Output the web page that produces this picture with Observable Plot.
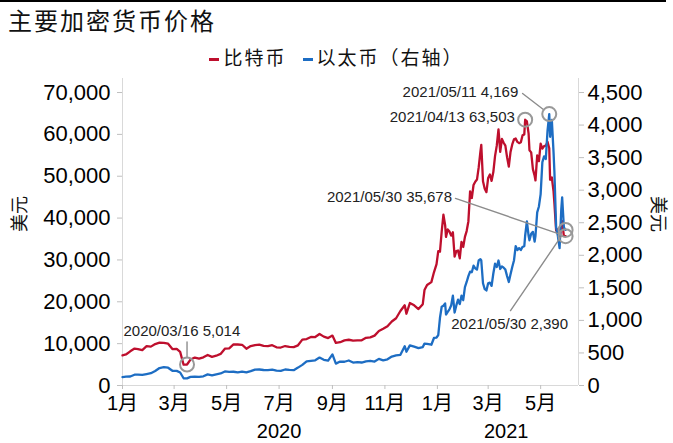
<!DOCTYPE html>
<html><head><meta charset="utf-8">
<script src="https://cdn.jsdelivr.net/npm/d3@7"></script>
<script src="https://cdn.jsdelivr.net/npm/@observablehq/plot@0.6"></script>
<style>
body{margin:0;background:#fff;}
#wrap{width:673px;height:443px;position:relative;overflow:hidden;background:#fff;}
#topline{position:absolute;left:0;top:0;width:666px;height:2px;background:#000;}
#title{position:absolute;left:8px;top:4px;font-family:"Noto Sans CJK SC";font-size:24px;line-height:32px;color:#111;letter-spacing:2px;}
#legend{position:absolute;left:0;width:673px;top:43px;text-align:center;font-family:"Noto Sans CJK SC";font-size:19px;line-height:28px;color:#111;}
#legend .sw{display:inline-block;width:10px;height:3px;vertical-align:middle;margin-right:4px;}
#legend .item{margin:0 8px;letter-spacing:2px;}
#chart{position:absolute;left:0;top:72px;}
</style>
</head><body>
<div id="wrap">
<div id="topline"></div>
<div id="title"></div>
<div id="legend"></div>
<div id="chart"></div>
</div>
<script>
const titleText = "主要加密货币价格";
const seriesNames = ["比特币", "以太币（右轴）"];
const colors = ["#BE0F2D", "#1D6DC3"];

const dates = [
"2020-01-01","2020-01-05","2020-01-10","2020-01-15","2020-01-19","2020-01-24","2020-01-29",
"2020-02-03","2020-02-08","2020-02-13","2020-02-18","2020-02-23","2020-02-28",
"2020-03-04","2020-03-08","2020-03-12","2020-03-16","2020-03-20","2020-03-25","2020-03-30",
"2020-04-04","2020-04-09","2020-04-14","2020-04-19","2020-04-24","2020-04-29",
"2020-05-04","2020-05-09","2020-05-14","2020-05-19","2020-05-24","2020-05-29",
"2020-06-03","2020-06-08","2020-06-13","2020-06-18","2020-06-23","2020-06-28",
"2020-07-03","2020-07-08","2020-07-13","2020-07-18","2020-07-23","2020-07-28",
"2020-08-02","2020-08-07","2020-08-12","2020-08-17","2020-08-22","2020-08-27",
"2020-09-01","2020-09-05","2020-09-10","2020-09-15","2020-09-20","2020-09-25","2020-09-30",
"2020-10-05","2020-10-10","2020-10-15","2020-10-20","2020-10-25","2020-10-30",
"2020-11-04","2020-11-09","2020-11-14","2020-11-19","2020-11-24","2020-11-26","2020-11-30",
"2020-12-05","2020-12-10","2020-12-15","2020-12-17","2020-12-20","2020-12-25","2020-12-28","2020-12-31",
"2021-01-02","2021-01-04","2021-01-06","2021-01-08","2021-01-10","2021-01-11","2021-01-13","2021-01-15",
"2021-01-17","2021-01-19","2021-01-21","2021-01-23","2021-01-25","2021-01-27","2021-01-29","2021-01-31",
"2021-02-02","2021-02-04","2021-02-06","2021-02-08","2021-02-10","2021-02-12","2021-02-14","2021-02-16",
"2021-02-18","2021-02-20","2021-02-21","2021-02-23","2021-02-25","2021-02-27",
"2021-03-01","2021-03-03","2021-03-05","2021-03-07","2021-03-09","2021-03-11","2021-03-13","2021-03-15",
"2021-03-17","2021-03-19","2021-03-21","2021-03-23","2021-03-25","2021-03-27","2021-03-29","2021-03-31",
"2021-04-02","2021-04-04","2021-04-06","2021-04-08","2021-04-10","2021-04-12","2021-04-13","2021-04-15",
"2021-04-17","2021-04-18","2021-04-20","2021-04-22","2021-04-24","2021-04-25","2021-04-27","2021-04-29",
"2021-05-01","2021-05-03","2021-05-05","2021-05-07","2021-05-09","2021-05-11","2021-05-12","2021-05-14",
"2021-05-16","2021-05-17","2021-05-19","2021-05-21","2021-05-23","2021-05-25","2021-05-26","2021-05-28","2021-05-30"
];

const btc = [
7200,7410,8170,8820,8700,8440,9390,
9290,9900,10240,10180,9990,8700,
8760,8040,4970,5014,6200,6680,6400,
6730,7300,6850,7120,7550,8790,
8890,9800,9800,9730,8790,9430,
9660,9760,9470,9410,9630,9120,
9070,9430,9240,9170,9600,10950,
11100,11600,11580,12300,11680,11330,
11920,10170,10340,10790,10930,10740,10780,
10790,11380,11500,11920,13030,13550,
14150,15300,16070,17800,19160,17150,19700,
19150,18250,19430,22800,24000,24700,27050,29000,
32100,31970,36800,40800,38300,35500,37300,36800,
35800,36600,30800,32100,32250,30400,34300,33100,
35500,36900,39200,46400,44800,47900,48700,49200,
52100,55900,57500,48800,47000,46200,
49600,50400,48900,51000,54800,57300,61200,55800,
58900,58000,57300,54500,52300,55800,57600,58800,
59000,58200,57900,58100,59800,60000,63503,63100,
60200,56200,55700,51700,50100,49000,55000,53600,
57800,56600,57200,57300,58200,56700,49150,49700,
46400,43500,37000,37300,34700,38400,39300,35700,35678
];

const eth = [
130,136,138,166,168,162,175,
189,223,268,282,273,226,
225,200,111,110,132,136,132,
141,171,157,172,185,216,
208,211,203,214,201,220,
244,246,238,235,243,227,
225,246,239,236,275,317,
372,379,387,429,395,383,
478,336,368,365,384,352,359,
353,370,377,368,409,387,
402,444,462,471,604,519,616,
596,573,590,643,638,626,730,737,
775,1040,1210,1225,1260,1090,1130,1170,
1230,1380,1120,1230,1320,1250,1380,1310,
1510,1590,1680,1750,1740,1840,1800,1780,
1920,1940,1920,1570,1480,1460,
1570,1580,1530,1720,1870,1820,1920,1790,
1830,1810,1780,1680,1590,1710,1820,1920,
2140,2080,2110,2080,2130,2140,2300,2520,
2300,2230,2330,2360,2210,2300,2660,2750,
2940,3430,3520,3480,3910,4169,3820,4080,
3580,3280,2430,2300,2110,2710,2890,2430,2390
];

const leftTicks = [0,10000,20000,30000,40000,50000,60000,70000];
const rightTicks = [0,500,1000,1500,2000,2500,3000,3500,4000,4500];
const monthTicks = ["2020-01-01","2020-03-01","2020-05-01","2020-07-01","2020-09-01","2020-11-01","2021-01-01","2021-03-01","2021-05-01"];
const yearLabels = ["2020","2021"];
const yearLabelDates = ["2020-07-01","2021-03-22"];
const axisLabel = "美元";

const annoDates = ["2020-03-16","2021-04-13","2021-05-11","2021-05-30","2021-05-30"];
const annoValues = [5014,63503,4169,35678,2390];
const annoSeries = ["btc","btc","eth","btc","eth"];

// ---- build ----
document.getElementById("title").textContent = titleText;
document.getElementById("legend").innerHTML = seriesNames.map((n,i)=>
  `<span class="item"><span class="sw" style="background:${colors[i]}"></span>${n}</span>`).join("");

const k = 70000/4500; // right-axis to left-axis factor
const D = s => new Date(s);
const data = dates.map((d,i)=>({date:D(d), btc:btc[i], eth:eth[i]*k}));
const fmt = d3.format(",");
const annos = annoDates.map((d,i)=>({
  date:D(d),
  y: annoSeries[i]==="eth" ? annoValues[i]*k : annoValues[i],
  text: d.replace(/-/g,"/") + " " + fmt(annoValues[i])
}));
const xStart = D("2020-01-01"), xEnd = D("2021-06-14");

// label placements (data units, left scale)
const place = [
  {lx:D("2020-03-10"), ly:12900, anchor:"middle", sx:D("2020-03-16"), sy:10400},
  {lx:D("2021-04-01"), ly:64000, anchor:"end", sx:null},
  {lx:D("2021-04-05"), ly:70000, anchor:"end", sx:D("2021-04-10"), sy:69760},
  {lx:D("2021-01-18"), ly:44900, anchor:"end", sx:D("2021-01-22"), sy:44700},
  {lx:D("2021-03-26"), ly:14570, anchor:"middle", sx:D("2021-03-27"), sy:17900}
];
const labels = annos.map((a,i)=>({...a, ...place[i]}));
const leaders = labels.filter(l=>l.sx);

const font = "'Liberation Sans', 'Noto Sans CJK SC', Arial, sans-serif";

const chart = Plot.plot({
  width:673, height:371,
  marginTop:6, marginBottom:58, marginLeft:122, marginRight:95,
  style:{fontFamily:font, fontSize:"22px", color:"#000", background:"#fff"},
  x:{type:"utc", domain:[xStart,xEnd]},
  y:{domain:[0,73350]},
  marks:[
    Plot.ruleX([xStart,xEnd], {stroke:"#d9d9d9", strokeWidth:1}),
    Plot.ruleY([0], {stroke:"#d9d9d9", strokeWidth:1}),
    Plot.axisY(leftTicks, {anchor:"left", tickSize:5, tickPadding:7, tickFormat:fmt, stroke:"#bfbfbf", fill:"#000", fontSize:22, label:null}),
    Plot.axisY(rightTicks.map(v=>v*k), {anchor:"right", tickSize:5, tickPadding:4, tickFormat:d=>fmt(Math.round(d/k)), stroke:"#bfbfbf", fill:"#000", fontSize:22, label:null}),
    Plot.axisX(monthTicks.map(D), {anchor:"bottom", tickSize:4, tickPadding:6, tickFormat:d=>`${d.getUTCMonth()+1}月`, stroke:"#bfbfbf", fill:"#000", fontSize:20, label:null}),
    Plot.text(yearLabels, {x:yearLabelDates.map(D), frameAnchor:"bottom", dy:52, fontSize:20, fill:"#000"}),
    Plot.text([axisLabel], {frameAnchor:"left", dx:-102, rotate:-90, fontSize:18, fill:"#111", fontFamily:"Noto Sans CJK SC"}),
    Plot.text([axisLabel], {frameAnchor:"right", dx:79, rotate:90, fontSize:18, fill:"#111", fontFamily:"Noto Sans CJK SC"}),
    Plot.lineY(data, {x:"date", y:"btc", stroke:colors[0], strokeWidth:2.3}),
    Plot.lineY(data, {x:"date", y:"eth", stroke:colors[1], strokeWidth:2.3}),
    Plot.arrow(leaders, {x1:"sx", y1:"sy", x2:"date", y2:"y", headLength:0, insetEnd:7, stroke:"#8c8c8c", strokeWidth:1.4}),
    Plot.dot(annos, {x:"date", y:"y", r:7, stroke:"#999", strokeWidth:2, fill:"none"}),
    Plot.text(labels.filter(l=>l.anchor==="end"), {x:"lx", y:"ly", text:"text", textAnchor:"end", fontSize:15, fill:"#222"}),
    Plot.text(labels.filter(l=>l.anchor==="middle"), {x:"lx", y:"ly", text:"text", textAnchor:"middle", fontSize:15, fill:"#222"})
  ]
});
document.getElementById("chart").appendChild(chart);
</script>
</body></html>
